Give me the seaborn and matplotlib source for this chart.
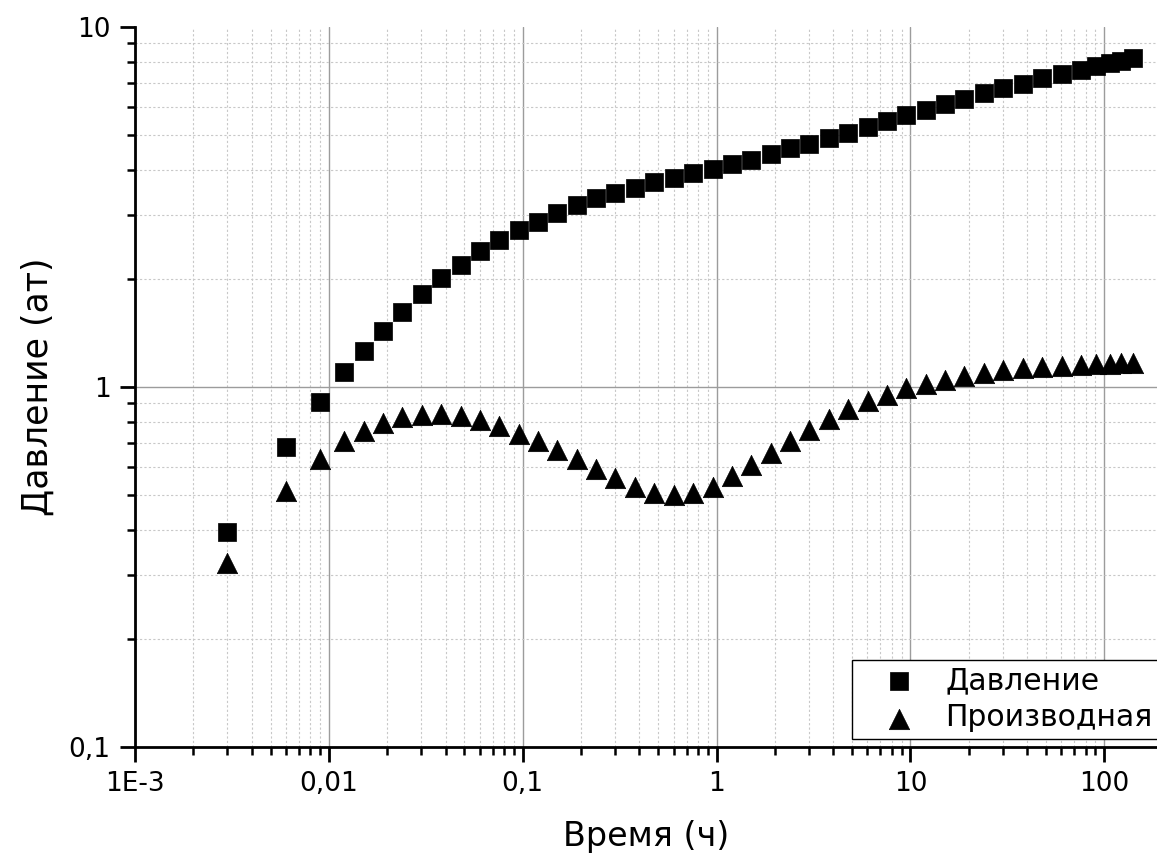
import matplotlib
matplotlib.use("Agg")
import matplotlib.pyplot as plt
from matplotlib.ticker import FixedLocator, FixedFormatter, LogLocator, NullFormatter
import pandas as pd
import seaborn as sns

# Well-test record: elapsed time (h), pressure change (at) and its log derivative
time_h = [
    0.003, 0.006, 0.009,
    0.012, 0.0151, 0.019, 0.0239, 0.0301, 0.0379, 0.0478, 0.0602, 0.0757, 0.0953,
    0.12, 0.151, 0.19, 0.239, 0.301, 0.379, 0.478, 0.602, 0.757, 0.953,
    1.2, 1.51, 1.9, 2.39, 3.01, 3.79, 4.78, 6.02, 7.57, 9.53,
    12.0, 15.1, 19.0, 23.9, 30.1, 37.9, 47.8, 60.2, 75.7,
    91.0, 107.0, 122.0, 140.0,
]
pressure = [
    0.395, 0.68, 0.907,
    1.099, 1.257, 1.434, 1.616, 1.809, 2.004, 2.186, 2.382, 2.556, 2.730,
    2.879, 3.038, 3.197, 3.344, 3.459, 3.571, 3.704, 3.800, 3.931, 4.033,
    4.155, 4.28, 4.43, 4.60, 4.73, 4.92, 5.09, 5.26, 5.48, 5.70,
    5.89, 6.10, 6.32, 6.54, 6.77, 6.95, 7.20, 7.39, 7.58,
    7.78, 7.94, 8.06, 8.19,
]
derivative = [
    0.324, 0.515, 0.631,
    0.707, 0.755, 0.796, 0.824, 0.838, 0.841, 0.831, 0.808, 0.779, 0.742,
    0.707, 0.667, 0.630, 0.590, 0.557, 0.527, 0.509, 0.502, 0.509, 0.527,
    0.565, 0.607, 0.657, 0.709, 0.761, 0.817, 0.867, 0.913, 0.952, 0.992,
    1.020, 1.049, 1.075, 1.096, 1.115, 1.127, 1.136, 1.144, 1.151,
    1.156, 1.159, 1.163, 1.165,
]

series_labels = ["Давление", "Производная"]
x_ticks = [0.001, 0.01, 0.1, 1, 10, 100]
x_tick_labels = ["1E-3", "0,01", "0,1", "1", "10", "100"]
y_ticks = [0.1, 1, 10]
y_tick_labels = ["0,1", "1", "10"]
x_label = "Время (ч)"
y_label = "Давление (ат)"

sns.set_style("white")
plt.rcParams.update({
    "font.family": ["DejaVu Sans"],
    "text.color": "black",
    "axes.labelcolor": "black",
    "xtick.color": "black",
    "ytick.color": "black",
    "xtick.bottom": True,
    "ytick.left": True,
    "xtick.direction": "out",
    "ytick.direction": "out",
    "xtick.minor.visible": True,
    "ytick.minor.visible": True,
})

W, H = 1157, 857
fig = plt.figure(figsize=(W / 100, H / 100), dpi=100)
ax = fig.add_axes([135 / W, 1 - 747 / H, 1 - 135 / W, (747 - 27) / H])

df = pd.DataFrame({"t": time_h, "p": pressure, "d": derivative})

sns.scatterplot(data=df, x="t", y="p", marker="s", s=150, color="black",
                edgecolor="black", linewidth=0.5, label=series_labels[0],
                ax=ax, zorder=3)
sns.scatterplot(data=df, x="t", y="d", marker="^", s=215, color="black",
                edgecolor="black", linewidth=0.5, label=series_labels[1],
                ax=ax, zorder=3)

ax.set_xscale("log")
ax.set_yscale("log")
ax.set_xlim(1e-3, 187)
ax.set_ylim(0.1, 10)

# ticks and labels
ax.xaxis.set_major_locator(FixedLocator(x_ticks))
ax.xaxis.set_major_formatter(FixedFormatter(x_tick_labels))
ax.yaxis.set_major_locator(FixedLocator(y_ticks))
ax.yaxis.set_major_formatter(FixedFormatter(y_tick_labels))
for axis in (ax.xaxis, ax.yaxis):
    axis.set_minor_locator(LogLocator(base=10, subs=range(2, 10), numticks=20))
    axis.set_minor_formatter(NullFormatter())

ax.tick_params(which="major", direction="out", length=10.5, width=2.0,
               labelsize=19, pad=7, color="black", labelcolor="black",
               bottom=True, left=True)
ax.tick_params(which="minor", direction="out", length=5.5, width=1.8,
               color="black", bottom=True, left=True)

# grid: dotted minor lines, solid major lines
ax.grid(which="minor", axis="both", color="#c8c8c8", linewidth=0.8,
        linestyle=(0, (2, 2)))
ax.grid(which="major", axis="x", color="#9c9c9c", linewidth=1.0, linestyle="-")
for yv in y_ticks[1:-1]:
    ax.axhline(yv, color="#9c9c9c", linewidth=1.0, zorder=1)
ax.set_axisbelow(True)

for side in ("top", "right"):
    ax.spines[side].set_visible(False)
for side in ("left", "bottom"):
    ax.spines[side].set_color("black")
    ax.spines[side].set_linewidth(2.0)

ax.set_xlabel(x_label, fontsize=24, labelpad=16, color="black")
ax.set_ylabel(y_label, fontsize=25, labelpad=10, color="black")

leg = ax.legend(loc="lower left", bbox_to_anchor=(0.7016, 0.0111),
                borderaxespad=0, fontsize=21.5, frameon=True, fancybox=False,
                framealpha=1, edgecolor="black", borderpad=0.22,
                labelspacing=0.28, handlelength=2.7, handletextpad=0.2)
leg.get_frame().set_linewidth(1.0)
for txt in leg.get_texts():
    txt.set_color("black")

fig.savefig("out.png", dpi=100)
